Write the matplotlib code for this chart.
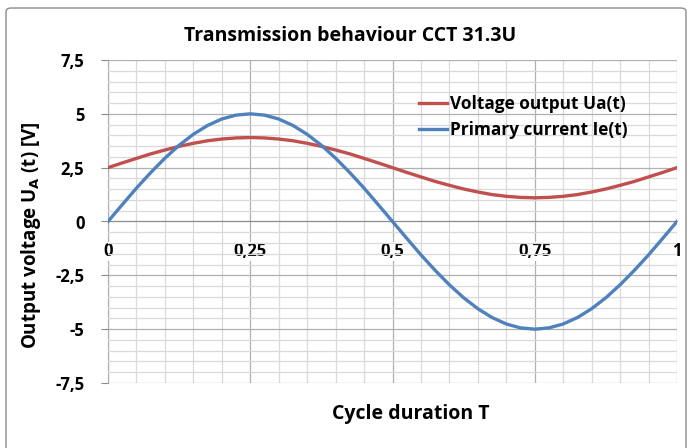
import matplotlib
matplotlib.use("Agg")
import matplotlib.pyplot as plt
from matplotlib.patches import FancyBboxPatch
from matplotlib.ticker import MultipleLocator, FuncFormatter

plt.rcParams["font.family"] = ["Open Sans", "DejaVu Sans"]

# values, every 0.025 of the cycle
t = [i * 0.025 for i in range(41)]
voltage = [2.5, 2.72, 2.93, 3.14, 3.32, 3.49, 3.63, 3.75, 3.83, 3.88, 3.9,
           3.88, 3.83, 3.75, 3.63, 3.49, 3.32, 3.14, 2.93, 2.72, 2.5,
           2.28, 2.07, 1.86, 1.68, 1.51, 1.37, 1.25, 1.17, 1.12, 1.1,
           1.12, 1.17, 1.25, 1.37, 1.51, 1.68, 1.86, 2.07, 2.28, 2.5]
current = [0.0, 0.78, 1.55, 2.27, 2.94, 3.54, 4.05, 4.46, 4.76, 4.94, 5.0,
           4.94, 4.76, 4.46, 4.05, 3.54, 2.94, 2.27, 1.55, 0.78, 0.0,
           -0.78, -1.55, -2.27, -2.94, -3.54, -4.05, -4.46, -4.76, -4.94, -5.0,
           -4.94, -4.76, -4.46, -4.05, -3.54, -2.94, -2.27, -1.55, -0.78, 0.0]

fig = plt.figure(figsize=(6.9, 4.48), dpi=100)
ax = fig.add_axes([108 / 690, 1 - 383 / 448, (677 - 108) / 690, (383 - 60) / 448])

# chart frame (runs off the bottom edge like the reference)
fig.patches.append(FancyBboxPatch((6 / 690, -10 / 448), 680 / 690, 450 / 448,
                                  boxstyle="round,pad=0,rounding_size=0.008",
                                  transform=fig.transFigure, fill=False,
                                  edgecolor="#8c8c8c", linewidth=1))

ax.plot(t, voltage, color="#C0504D", lw=2.4, label="Voltage output Ua(t)", zorder=3)
ax.plot(t, current, color="#4F81BD", lw=2.4, label="Primary current Ie(t)", zorder=3)

ax.set_xlim(0, 1)
ax.set_ylim(-7.5, 7.5)
ax.xaxis.set_major_locator(MultipleLocator(0.25))
ax.xaxis.set_minor_locator(MultipleLocator(0.05))
ax.yaxis.set_major_locator(MultipleLocator(2.5))
ax.yaxis.set_minor_locator(MultipleLocator(0.5))
comma = FuncFormatter(lambda v, p: f"{v:g}".replace(".", ","))
ax.xaxis.set_major_formatter(comma)
ax.yaxis.set_major_formatter(comma)

ax.grid(which="major", color="#b0b0b0", lw=0.9, zorder=0)
ax.grid(which="minor", color="#d9d9d9", lw=0.9, zorder=0)
ax.set_axisbelow(True)

for s in ["top", "right"]:
    ax.spines[s].set_visible(False)
ax.spines["bottom"].set_position(("data", 0))
ax.spines["bottom"].set_color("#8c8c8c")
ax.spines["left"].set_color("#8c8c8c")
ax.spines["left"].set_zorder(0.4)

ax.tick_params(axis="x", which="both", length=0, pad=15, labelsize=12)
ax.tick_params(axis="y", which="major", length=5, color="#8c8c8c", labelsize=12, pad=12)
ax.tick_params(axis="y", which="minor", length=0)
for lab in ax.get_xticklabels() + ax.get_yticklabels():
    lab.set_fontweight("bold")
for lab in ax.get_xticklabels():
    lab.set_bbox(dict(facecolor="white", edgecolor="none", pad=0.5))

fig.text(350 / 690, 1 - 36 / 448, "Transmission behaviour CCT 31.3U",
         ha="center", va="center", fontsize=14, fontweight="bold")
fig.text(411 / 690, 1 - 414 / 448, "Cycle duration T",
         ha="center", va="center", fontsize=14, fontweight="bold")
fig.text(31 / 690, 1 - 235 / 448, r"Output voltage U$_\mathbf{A}$ (t) [V]",
         ha="center", va="center", rotation=90, fontsize=13.5, fontweight="bold")

leg = ax.legend(loc="upper left", bbox_to_anchor=(0.52, 0.94), frameon=False,
                handlelength=1.6, handletextpad=0.15, labelspacing=0.5,
                prop={"weight": "bold", "size": 12.4})

fig.savefig("out.png", dpi=100)
